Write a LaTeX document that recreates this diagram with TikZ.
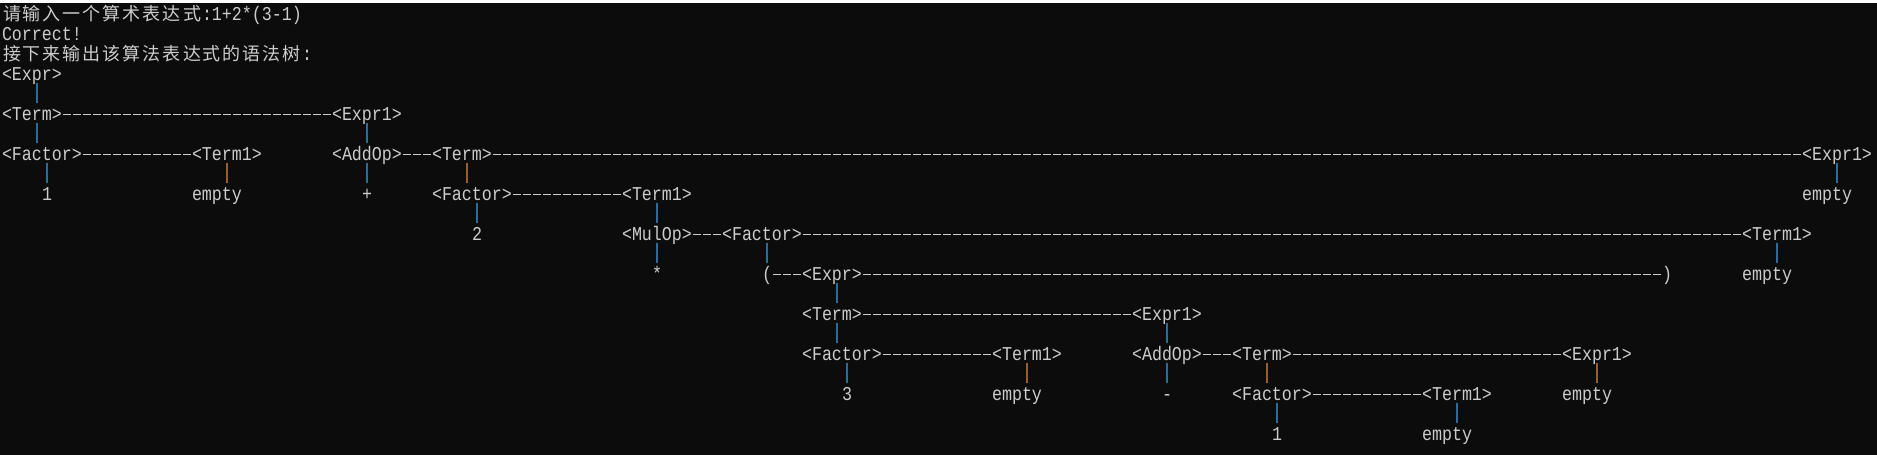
\documentclass[tikz,border=0pt]{standalone}
\usepackage{fontspec}
\newfontfamily\monof[FakeStretch=0.85]{Liberation Mono}
\newfontfamily\cjkf{Noto Sans CJK SC}
\definecolor{bg}{HTML}{0C0C0C}
\definecolor{fg}{HTML}{CCCCCC}
\definecolor{barc}{HTML}{2A6C9C}
\definecolor{barb}{HTML}{94602F}
\tikzset{
  cell/.style={anchor=base west, inner sep=0pt, outer sep=0pt, text height=17pt, text depth=3pt, text=fg, font=\monof\fontsize{19.6}{20}\selectfont},
  cjkcell/.style={cell, font=\cjkf\fontsize{18}{20}\selectfont},
  barline/.style={draw=barc, line width=1.4pt},
  brownbar/.style={draw=barb},
  dashline/.style={draw=fg, line width=1pt, dash pattern=on 8pt off 2pt, dash phase=9pt},
}
\def\cjloop#1{\ifx\relax#1\else\makebox[20pt][c]{#1}\expandafter\cjloop\fi}
\newcommand\cjrow[1]{\cjloop#1\relax}
\newcommand\TN[4]{\node[cell] (#1) at ({2+10*#2},{-20-20*#3}) {#4};}
\newcommand\VB[4][]{\path ([xshift={10*#3+5}]#2.south west) coordinate (tmp); \draw[barline,#1] (tmp) -- (tmp |- #4.north);}
\newcommand\DL[2]{\draw[dashline] ([yshift=-1pt]#1.east) -- ([yshift=-1pt]#2.west);}
\begin{document}
\begin{tikzpicture}[x=1pt,y=1pt]
\fill[bg] (0,0) rectangle (1877,-455);
\fill[white] (0,0) rectangle (1877,-2.7);
\useasboundingbox (0,0) rectangle (1877,-455);
% header
\node[cjkcell] (h0a) at (2,-20) {\cjrow{请输入一个算术表达式}};
\TN{h0b}{20}{0}{:1+2*(3-1)}
\TN{h1}{0}{1}{Correct!}
\node[cjkcell] (h2a) at (2,-60) {\cjrow{接下来输出该算法表达式的语法树}};
\TN{h2b}{30}{2}{:}
% L0
\TN{e0}{0}{3}{<Expr>}
% L1
\TN{t1}{0}{5}{<Term>}
\TN{x1}{33}{5}{<Expr1>}
% L2
\TN{f2}{0}{7}{<Factor>}
\TN{tp2}{19}{7}{<Term1>}
\TN{a2}{33}{7}{<AddOp>}
\TN{t2}{43}{7}{<Term>}
\TN{x2}{180}{7}{<Expr1>}
% L3
\TN{n3}{4}{9}{1}
\TN{em3a}{19}{9}{empty}
\TN{plus}{36}{9}{+}
\TN{f3}{43}{9}{<Factor>}
\TN{tp3}{62}{9}{<Term1>}
\TN{em3b}{180}{9}{empty}
% L4
\TN{n4}{47}{11}{2}
\TN{m4}{62}{11}{<MulOp>}
\TN{f4}{72}{11}{<Factor>}
\TN{tp4}{174}{11}{<Term1>}
% L5
\TN{star}{65}{13}{*}
\TN{lp}{76}{13}{(}
\TN{e5}{80}{13}{<Expr>}
\TN{rp}{166}{13}{)}
\TN{em5}{174}{13}{empty}
% L6
\TN{t6}{80}{15}{<Term>}
\TN{x6}{113}{15}{<Expr1>}
% L7
\TN{f7}{80}{17}{<Factor>}
\TN{tp7}{99}{17}{<Term1>}
\TN{a7}{113}{17}{<AddOp>}
\TN{t7}{123}{17}{<Term>}
\TN{x7}{156}{17}{<Expr1>}
% L8
\TN{n8}{84}{19}{3}
\TN{em8a}{99}{19}{empty}
\TN{minus}{116}{19}{-}
\TN{f8}{123}{19}{<Factor>}
\TN{tp8}{142}{19}{<Term1>}
\TN{em8b}{156}{19}{empty}
% L9
\TN{n9}{127}{21}{1}
\TN{em9}{142}{21}{empty}
% vertical bars
\VB{e0}{3}{t1}
\VB{t1}{3}{f2}
\VB{x1}{3}{a2}
\VB{f2}{4}{n3}
\VB[brownbar]{tp2}{3}{em3a}
\VB{a2}{3}{plus}
\VB[brownbar]{t2}{3}{f3}
\VB{x2}{3}{em3b}
\VB{f3}{4}{n4}
\VB{tp3}{3}{m4}
\VB{m4}{3}{star}
\VB{f4}{4}{lp}
\VB{tp4}{3}{em5}
\VB{e5}{3}{t6}
\VB{t6}{3}{f7}
\VB{x6}{3}{a7}
\VB{f7}{4}{n8}
\VB[brownbar]{tp7}{3}{em8a}
\VB{a7}{3}{minus}
\VB[brownbar]{t7}{3}{f8}
\VB[brownbar]{x7}{3}{em8b}
\VB{f8}{4}{n9}
\VB{tp8}{3}{em9}
% dashed sibling links
\DL{t1}{x1}
\DL{f2}{tp2}
\DL{a2}{t2}
\DL{t2}{x2}
\DL{f3}{tp3}
\DL{m4}{f4}
\DL{f4}{tp4}
\DL{lp}{e5}
\DL{e5}{rp}
\DL{t6}{x6}
\DL{f7}{tp7}
\DL{a7}{t7}
\DL{t7}{x7}
\DL{f8}{tp8}
\end{tikzpicture}
\end{document}
